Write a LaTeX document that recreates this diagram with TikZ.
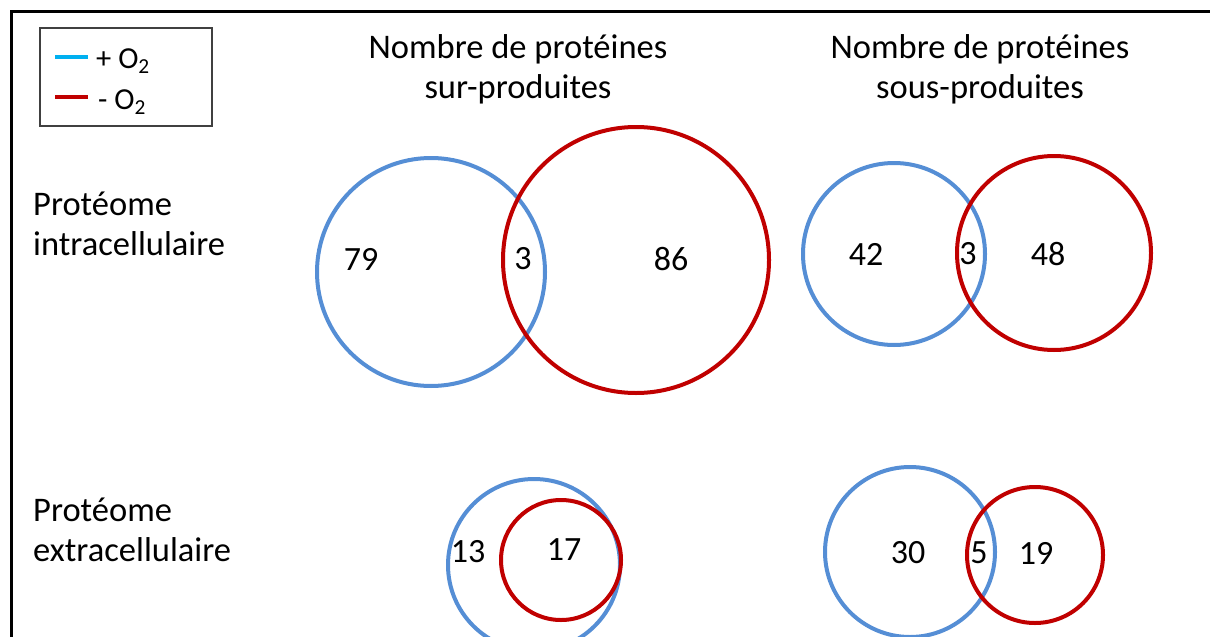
\documentclass[tikz,border=0pt]{standalone}
\usepackage{fontspec}
\setmainfont{Carlito}
\usetikzlibrary{positioning}
\definecolor{plusox}{RGB}{85,142,213}
\definecolor{minusox}{RGB}{192,0,0}
\definecolor{legendblue}{RGB}{0,176,240}

\begin{document}
\begin{tikzpicture}[
    x=1pt, y=-1pt,
    bigtext/.style={font=\fontsize{34.5}{40}\selectfont, inner sep=0pt},
    title/.style={bigtext, anchor=base},
    rowlabel/.style={bigtext, anchor=base west},
    count/.style={font=\fontsize{34}{40}\selectfont, inner sep=0pt, anchor=center},
    setcircle/.style={
        circle, draw=#1, line width=4pt, inner sep=0pt, minimum size=2*\r
    },
    legendtext/.style={font=\fontsize{30.5}{36}\selectfont, inner sep=0pt, anchor=base west},
    swatch/.style={line width=4pt, #1}
]
\useasboundingbox (0,0) rectangle (1210,637);
\clip (0,0) rectangle (1210,637);

% ── Frame ──
\draw[line width=3pt] (11,640) -- (11,11) -- (1213,11);

% ── Legend ──
\node[draw=black!75, line width=1.2pt, minimum width=172pt, minimum height=98pt,
      inner sep=0pt] (legend) at (126,77) {};
\draw[swatch=legendblue] (55,57) -- (88,57);
\draw[swatch=minusox] (55,97) -- (88,97);
\node[legendtext] (plus) at (96,68) {+ O\textsubscript{2}};
\node[legendtext] (minus) at (98,109) {- O\textsubscript{2}};

% ── Column headers ──
\node[title] (sur1) at (518,58) {Nombre de protéines};
\node[title] (sur2) at (518,98) {sur-produites};
\node[title] (sous1) at (980,58) {Nombre de protéines};
\node[title] (sous2) at (980,98) {sous-produites};

% ── Row labels ──
\node[rowlabel] (intra1) at (33,215) {Protéome};
\node[rowlabel] (intra2) at (33,255) {intracellulaire};
\node[rowlabel] (extra1) at (33,521) {Protéome};
\node[rowlabel] (extra2) at (33,561) {extracellulaire};

% ── Intracellular, over-produced ──
\def\r{114pt}\node[setcircle=plusox] (intsurplus) at (431,272) {};
\def\r{133pt}\node[setcircle=minusox] (intsurminus) at (636,260) {};
\node[count] (n79) at (361,259) {79};
\node[count] (n3a) at (523,259) {3};
\node[count] (n86) at (671,259) {86};

% ── Intracellular, under-produced ──
\def\r{91pt}\node[setcircle=plusox] (intsousplus) at (894,254) {};
\def\r{97pt}\node[setcircle=minusox] (intsousminus) at (1054,253) {};
\node[count] (n42) at (866,254) {42};
\node[count] (n3b) at (968,254) {3};
\node[count] (n48) at (1048,254) {48};

% ── Extracellular, over-produced ──
\def\r{86pt}\node[setcircle=plusox] (extsurplus) at (534,565) {};
\def\r{60pt}\node[setcircle=minusox] (extsurminus) at (561,560) {};
\node[count] (n13) at (468,552) {13};
\node[count] (n17) at (564,550) {17};

% ── Extracellular, under-produced ──
\def\r{85pt}\node[setcircle=plusox] (extsousplus) at (910,552) {};
\def\r{68pt}\node[setcircle=minusox] (extsousminus) at (1035,555) {};
\node[count] (n30) at (908,553) {30};
\node[count] (n5) at (979,553) {5};
\node[count] (n19) at (1036,553) {19};

\end{tikzpicture}
\end{document}
